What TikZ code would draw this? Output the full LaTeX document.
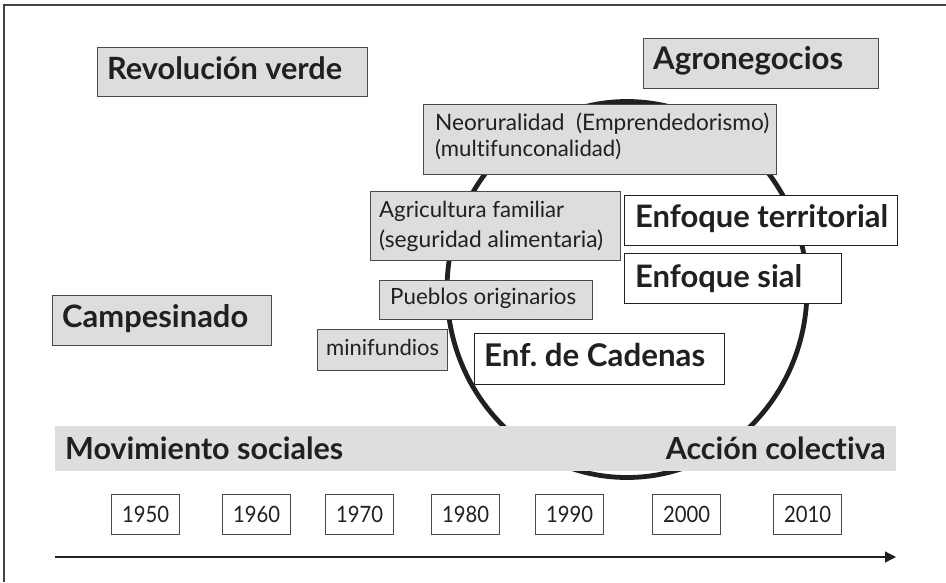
\documentclass[tikz,border=0pt]{standalone}
\usepackage{graphicx}
\usepackage{fontspec}
\setmainfont{Lato}[Ligatures=NoCommon]
\usetikzlibrary{arrows.meta}
\definecolor{boxgray}{HTML}{DCDDDE}
\definecolor{bandgray}{HTML}{DDDEDF}
\definecolor{ink}{HTML}{231F20}
\definecolor{edge}{HTML}{4A4A4A}
\newcommand{\bigf}{\fontsize{29pt}{34pt}\selectfont\bfseries}
\newcommand{\smf}{\fontsize{21.5pt}{26pt}\selectfont}
\newcommand{\fitw}[2]{\resizebox{#1}{!}{#2}}
\newcommand{\yr}[1]{\resizebox{47pt}{16.3pt}{\smf #1}}
\tikzset{
  x=1pt, y=-1pt,
  every node/.style={text=ink},
  graybox/.style={draw=edge, fill=boxgray, line width=1pt, anchor=north west, inner sep=0pt},
  whitebox/.style={draw=ink, fill=white, line width=1.3pt, anchor=north west, inner sep=0pt},
  lbl/.style={anchor=base west, inner sep=0pt},
  yearbox/.style={draw=edge, fill=white, line width=1pt, anchor=north west, minimum width=68pt, minimum height=40pt, inner sep=0pt},
}
\begin{document}
\begin{tikzpicture}
\useasboundingbox (0,0) rectangle (946,582);
% frame
\draw[line width=1.2pt, ink!85] (4,582) -- (4,5) -- (946,5);
% circle
\draw[line width=4.8pt, ink] (627,289.5) ellipse [x radius=180, y radius=188];
% boxes
\node[graybox, minimum width=270pt, minimum height=49pt] (rev) at (97,47) {};
\node[lbl] (revt) at (107,79) {\fitw{235pt}{\bigf Revolución verde}};
\node[graybox, minimum width=235pt, minimum height=50pt] (agro) at (643,38) {};
\node[lbl] (agrot) at (653,69.3) {\fitw{190pt}{\bigf Agronegocios}};
\node[graybox, minimum width=353pt, minimum height=70pt] (neo) at (423,104) {};
\node[lbl] (neot1) at (435,130) {\fitw{334pt}{\smf Neoruralidad\ \ (Emprendedorismo)}};
\node[lbl] (neot2) at (435,156) {\fitw{186pt}{\smf (multifunconalidad)}};
\node[graybox, minimum width=250pt, minimum height=69pt] (agri) at (370,191) {};
\node[lbl] (agrit1) at (379,217) {\fitw{185pt}{\smf Agricultura familiar}};
\node[lbl] (agrit2) at (379,247) {\fitw{224pt}{\smf (seguridad alimentaria)}};
\node[whitebox, minimum width=273pt, minimum height=50pt] (terr) at (624,195) {};
\node[lbl] (terrt) at (635,227.7) {\fitw{253pt}{\bigf Enfoque territorial}};
\node[whitebox, minimum width=217pt, minimum height=50pt] (sial) at (624,253) {};
\node[lbl] (sialt) at (635,287) {\fitw{167pt}{\bigf Enfoque sial}};
\node[graybox, minimum width=213pt, minimum height=39pt] (pueb) at (379,280) {};
\node[lbl] (puebt) at (390,304) {\fitw{186pt}{\smf Pueblos originarios}};
\node[graybox, minimum width=130pt, minimum height=41pt] (mini) at (317,329) {};
\node[lbl] (minit) at (326,355) {\fitw{113pt}{\smf minifundios}};
\node[graybox, minimum width=219pt, minimum height=50pt] (camp) at (52,295) {};
\node[lbl] (campt) at (62,327.7) {\fitw{186pt}{\bigf Campesinado}};
\node[whitebox, minimum width=250pt, minimum height=51pt] (cad) at (474,333) {};
\node[lbl] (cadt) at (484,366.7) {\fitw{221pt}{\bigf Enf.\ de Cadenas}};
% band
\node[fill=bandgray, anchor=north west, minimum width=841pt, minimum height=45pt, inner sep=0pt] (band) at (55,426) {};
\node[lbl] (mov) at (65,459) {\fitw{278pt}{\bigf Movimiento sociales}};
\node[anchor=base east, inner sep=0pt] (acc) at (886,459) {\fitw{220pt}{\bigf Acción colectiva}};
% years
\node[yearbox] (y1950) at (111,494) {\yr{1950}};
\node[yearbox] (y1960) at (222,494) {\yr{1960}};
\node[yearbox] (y1970) at (325,494) {\yr{1970}};
\node[yearbox] (y1980) at (431,494) {\yr{1980}};
\node[yearbox] (y1990) at (535,494) {\yr{1990}};
\node[yearbox] (y2000) at (652,494) {\yr{2000}};
\node[yearbox] (y2010) at (773,494) {\yr{2010}};
% time axis
\coordinate (tstart) at (55,557);
\coordinate (tend) at (896,557);
\draw[line width=1.3pt, ink, -{Triangle[length=11pt,width=11pt]}] (tstart) -- (tend);
\end{tikzpicture}
\end{document}
